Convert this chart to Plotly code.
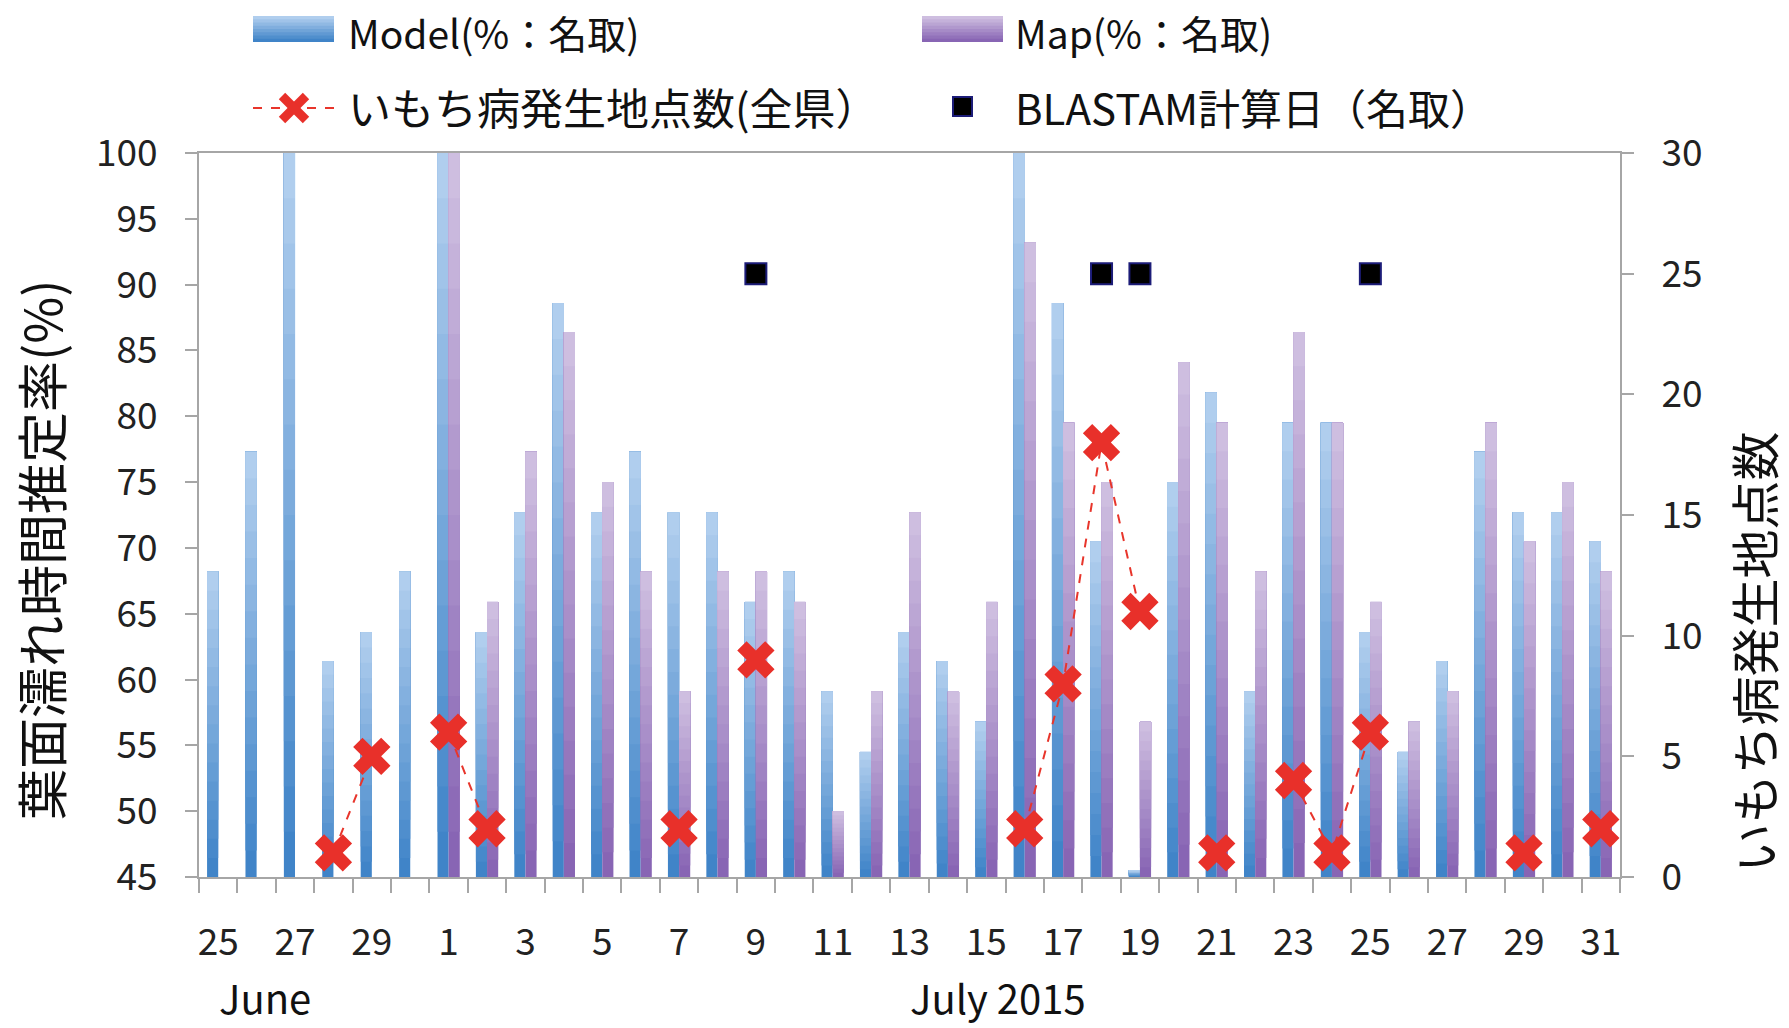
import plotly.graph_objects as go

# ---- data -------------------------------------------------------------
dates = (["6/%d" % d for d in range(25, 31)] +
         ["7/%d" % d for d in range(1, 32)])

model = [68.2, 77.3, 100, 61.4, 63.6, 68.2,
         100, 63.6, 72.7, 88.6, 72.7, 77.3, 72.7, 72.7, 65.9, 68.2,
         59.1, 54.5, 63.6, 61.4, 56.8, 100, 88.6, 70.5, 45.5, 75.0,
         81.8, 59.1, 79.5, 79.5, 63.6, 54.5, 61.4, 77.3, 72.7, 72.7, 70.5]

map_pct = [None, None, None, None, None, None,
           100, 65.9, 77.3, 86.4, 75.0, 68.2, 59.1, 68.2, 68.2, 65.9,
           50.0, 59.1, 72.7, 59.1, 65.9, 93.2, 79.5, 75.0, 56.8, 84.1,
           79.5, 68.2, 86.4, 79.5, 65.9, 56.8, 59.1, 79.5, 70.5, 75.0, 68.2]

blast_sites = {"6/28": 1, "6/29": 5, "7/1": 6, "7/2": 2, "7/7": 2, "7/9": 9,
               "7/16": 2, "7/17": 8, "7/18": 18, "7/19": 11, "7/21": 1,
               "7/23": 4, "7/24": 1, "7/25": 6, "7/29": 1, "7/31": 2}

blastam_days = ["7/9", "7/18", "7/19", "7/25"]
blastam_level = 25

tick_text = ["25", "27", "29", "1", "3", "5", "7", "9", "11", "13", "15",
             "17", "19", "21", "23", "25", "27", "29", "31"]

y_left_range = [45, 100]
y_right_range = [0, 30]

# ---- geometry of the page ---------------------------------------------
W, H = 1789, 1028
L, R, T, B = 199, 1620, 153, 877


def px(x):
    return (x - L) / (R - L)


def py(y):
    return (B - y) / (B - T)


xpos = list(range(len(dates)))
FONT = "Noto Sans CJK JP, Noto Sans, sans-serif"
AX = "#a6a6a6"
TXT = "#111111"


def mix(c0, c1, t):
    return "rgb(%d,%d,%d)" % tuple(round(a + (b - a) * t) for a, b in zip(c0, c1))


MODEL_LO, MODEL_HI = (64, 132, 200), (176, 206, 238)
MAP_LO, MAP_HI = (136, 101, 180), (206, 190, 224)

fig = go.Figure()

# gradient bars: each layer starts a bit higher up the bar and runs to its top,
# drawn bottom layer first so lighter layers cover the upper part
NSEG = 16
BW = 0.29
for vals, lo, hi, off in ((model, MODEL_LO, MODEL_HI, -BW),
                          (map_pct, MAP_LO, MAP_HI, 0.0)):
    base0 = y_left_range[0]
    for k in range(NSEG):
        bases = [None if v is None else base0 + (v - base0) * k / NSEG for v in vals]
        lens = [None if v is None else (v - base0) * (NSEG - k) / NSEG for v in vals]
        fig.add_trace(go.Bar(
            x=xpos, y=lens, base=bases, width=BW, offset=off,
            marker=dict(color=mix(lo, hi, k / (NSEG - 1)), line=dict(width=0)),
            showlegend=False, hoverinfo="skip", yaxis="y"))

# blast occurrence counts (gaps break the dashed line)
counts = [blast_sites.get(d) for d in dates]
fig.add_trace(go.Scatter(
    x=xpos, y=counts, yaxis="y2", mode="lines+markers", connectgaps=False,
    line=dict(color="#e8352b", width=2, dash="dash"),
    marker=dict(symbol="x", size=33, color="#e8302a", line=dict(width=0)),
    showlegend=False))

# BLASTAM calculation days
fig.add_trace(go.Scatter(
    x=[dates.index(d) for d in blastam_days],
    y=[blastam_level] * len(blastam_days), yaxis="y2", mode="markers",
    marker=dict(symbol="square", size=21, color="#000000",
                line=dict(color="#1c1c78", width=2)),
    showlegend=False))

# ---- hand-drawn legend ---------------------------------------------------
shapes = []
for x0, lo, hi in ((253, MODEL_LO, MODEL_HI), (922, MAP_LO, MAP_HI)):
    n = 8
    y_top, y_bot = 16, 42
    for k in range(n):
        yb = y_bot - (y_bot - y_top) * k / n
        shapes.append(dict(type="rect", xref="paper", yref="paper",
                           x0=px(x0), x1=px(x0 + 81), y0=py(yb), y1=py(y_top),
                           fillcolor=mix(lo, hi, k / (n - 1)), line=dict(width=0),
                           layer="above"))
# dashed line + cross
shapes.append(dict(type="line", xref="paper", yref="paper",
                   x0=px(253), x1=px(334), y0=py(108), y1=py(108),
                   line=dict(color="#e8352b", width=2, dash="dash")))
for dx in (-1, 1):
    shapes.append(dict(type="line", xref="paper", yref="paper",
                       x0=px(294 - 12 * dx), x1=px(294 + 12 * dx),
                       y0=py(96), y1=py(120),
                       line=dict(color="#e8302a", width=9)))
shapes.append(dict(type="rect", xref="paper", yref="paper",
                   x0=px(953), x1=px(972), y0=py(97), y1=py(116),
                   fillcolor="#000000", line=dict(color="#1c1c78", width=2)))

ann = []
for x, y, txt, sz in ((346, 32, "Model(%：名取)", 39), (1013, 32, "Map(%：名取)", 39),
                      (346, 106, "いもち病発生地点数(全県）", 43),
                      (1013, 106, "BLASTAM計算日（名取）", 42)):
    ann.append(dict(x=px(x), y=py(y), xref="paper", yref="paper", text=txt,
                    showarrow=False, xanchor="left", yanchor="middle",
                    font=dict(family=FONT, size=sz, color=TXT)))

# axis titles and month labels
for x, y, txt, sz, ang in ((40, 482 / 0.8765, "葉面濡れ時間推定率(%)", 51, -90),
                           (1753, 572 / 0.8765, "いもち病発生地点数", 49, -90),
                           (265, 997, "June", 40, 0),
                           (998, 997, "July 2015", 40, 0)):
    ann.append(dict(x=px(x), y=py(y), xref="paper", yref="paper", text=txt,
                    textangle=ang, showarrow=False, xanchor="center",
                    yanchor="middle", font=dict(family=FONT, size=sz, color=TXT)))

tickfont = dict(family=FONT, size=37, color="#222222")

fig.update_layout(
    width=W, height=H,
    margin=dict(l=L, r=W - R, t=T, b=H - B, pad=0),
    paper_bgcolor="white", plot_bgcolor="white",
    barmode="overlay", showlegend=False,
    shapes=shapes, annotations=ann,
    xaxis=dict(range=[-0.5, len(dates) - 0.5],
               tickmode="array", tickvals=xpos[::2], ticktext=tick_text,
               ticks="", tickfont=tickfont, ticklabelstandoff=32,
               showline=True, linecolor=AX, linewidth=2, mirror=True,
               showgrid=False, zeroline=False,
               minor=dict(tickmode="linear", tick0=-0.5, dtick=1,
                          ticks="outside", ticklen=14, tickwidth=2,
                          tickcolor=AX, showgrid=False)),
    yaxis=dict(range=y_left_range, dtick=5, tick0=45,
               ticks="outside", ticklen=12, tickwidth=2, tickcolor=AX,
               tickfont=tickfont, ticklabelstandoff=20,
               showline=True, linecolor=AX, linewidth=2,
               showgrid=False, zeroline=False),
    yaxis2=dict(range=y_right_range, dtick=5, overlaying="y", side="right",
                ticks="outside", ticklen=12, tickwidth=2, tickcolor=AX,
                tickfont=tickfont, ticklabelstandoff=20,
                showline=True, linecolor=AX, linewidth=2,
                showgrid=False, zeroline=False),
)

fig.write_html("out.html")
